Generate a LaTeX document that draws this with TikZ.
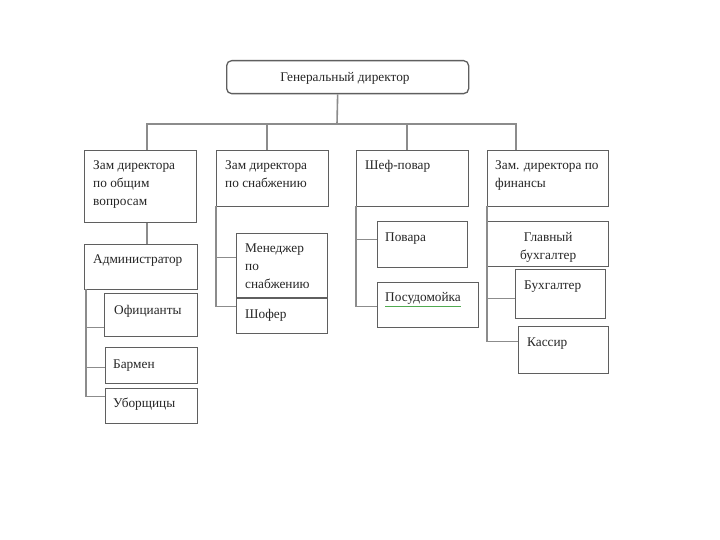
\documentclass[tikz,border=0pt]{standalone}
\usepackage{fontspec}
\setmainfont{Liberation Serif}
\begin{document}
\begin{tikzpicture}[x=1pt,y=-1pt,
  box/.style={draw=boxc, line width=1.3pt, inner sep=0pt, anchor=north west},
  conn/.style={draw=linec, line width=1.6pt},
  txt/.style={inner sep=0pt, anchor=north west, align=left, text=black!85, font=\fontsize{13.3}{18}\selectfont},
]
\definecolor{boxc}{RGB}{95,95,95}
\definecolor{linec}{RGB}{140,140,140}
\definecolor{spell}{RGB}{80,170,80}
\useasboundingbox (0,0) rectangle (720,540);
\fill[white] (0,0) rectangle (720,540);

% top
\node[box, rounded corners=5pt, minimum width=242pt, minimum height=33pt] (gd) at (226,60) {};
\node[txt, anchor=center] (tgd) at (345,78) {Генеральный директор};

% level 2
\node[box, minimum width=112pt, minimum height=72pt] (za) at (84,150) {};
\node[box, minimum width=112pt, minimum height=56pt] (zb) at (216,150) {};
\node[box, minimum width=112pt, minimum height=56pt] (zc) at (356,150) {};
\node[box, minimum width=121pt, minimum height=56pt] (zd) at (487,150) {};
\node[txt] (tza) at ([xshift=9pt,yshift=-10pt]za.north west) {Зам директора\\по общим\\вопросам};
\node[txt] (tzb) at ([xshift=9pt,yshift=-10pt]zb.north west) {Зам директора\\по снабжению};
\node[txt] (tzc) at ([xshift=9pt,yshift=-10pt]zc.north west) {Шеф-повар};
\node[txt] (tzd) at ([xshift=8pt,yshift=-10pt]zd.north west) {Зам. директора по\\финансы};

% bus
\coordinate (bus) at (337,124);
\draw[conn] ([xshift=-10pt]gd.south) -- (bus);
\draw[conn] (za.north -| 147,0) |- (bus) -| (zd.north -| 516,0);
\draw[conn] (zb.north -| 267,0) -- (267,124);
\draw[conn] (zc.north -| 407,0) -- (407,124);

% branch A
\node[box, minimum width=113pt, minimum height=45pt] (adm) at (84,244) {};
\node[txt] (tadm) at ([xshift=9pt,yshift=-11pt]adm.north west) {Администратор};
\node[box, minimum width=93pt, minimum height=43pt] (of) at (104,293) {};
\node[txt] (tof) at ([xshift=10pt,yshift=-12pt]of.north west) {Официанты};
\node[box, minimum width=92pt, minimum height=36pt] (bar) at (105,347) {};
\node[txt] (tbar) at ([xshift=8pt,yshift=-13pt]bar.north west) {Бармен};
\node[box, minimum width=92pt, minimum height=35pt] (ub) at (105,388) {};
\node[txt] (tub) at ([xshift=8pt,yshift=-10pt]ub.north west) {Уборщицы};
\draw[conn] (za.south -| 147,0) -- (adm.north -| 147,0);
\coordinate (ca) at (86,289);
\draw[conn] (ca) |- ([yshift=9.5pt]ub.west);
\draw[conn] (ca) |- ([yshift=-12.5pt]of.west);
\draw[conn] (ca) |- ([yshift=-2pt]bar.west);

% branch B
\node[box, minimum width=91pt, minimum height=64pt] (men) at (236,233) {};
\node[txt] (tmen) at ([xshift=9pt,yshift=-11pt]men.north west) {Менеджер\\по\\снабжению};
\node[box, minimum width=91pt, minimum height=35pt] (sh) at (236,298) {};
\node[txt] (tsh) at ([xshift=9pt,yshift=-11pt]sh.north west) {Шофер};
\coordinate (cb) at (216,206);
\draw[conn] (cb) |- ([yshift=9.5pt]sh.west);
\draw[conn] (cb) |- ([yshift=8pt]men.west);

% branch C
\node[box, minimum width=90pt, minimum height=46pt] (pov) at (377,221) {};
\node[txt] (tpov) at ([xshift=8pt,yshift=-12pt]pov.north west) {Повара};
\node[box, minimum width=101pt, minimum height=45pt] (pos) at (377,282) {};
\node[txt] (tpos) at ([xshift=8pt,yshift=-10pt]pos.north west) {Посудомойка};
\draw[spell, line width=0.7pt] ([yshift=-2pt]tpos.south west) -- ([yshift=-2pt]tpos.south east);
\coordinate (cc) at (356,206);
\draw[conn] (cc) |- ([yshift=-1.5pt]pos.west);
\draw[conn] (cc) |- ([yshift=5pt]pov.west);

% branch D
\node[box, minimum width=121pt, minimum height=45pt] (gb) at (487,221) {};
\node[txt, align=center, anchor=north] (tgb) at ([yshift=-11pt]gb.north) {Главный\\бухгалтер};
\node[box, minimum width=90pt, minimum height=49pt] (bu) at (515,269) {};
\node[txt] (tbu) at ([xshift=9pt,yshift=-12pt]bu.north west) {Бухгалтер};
\node[box, minimum width=90pt, minimum height=47pt] (ka) at (518,326) {};
\node[txt] (tka) at ([xshift=9pt,yshift=-12pt]ka.north west) {Кассир};
\coordinate (cd) at (487,206);
\draw[conn] (cd) |- ([yshift=8.5pt]ka.west);
\draw[conn] (cd) |- ([yshift=-4.5pt]bu.west);
\end{tikzpicture}
\end{document}
